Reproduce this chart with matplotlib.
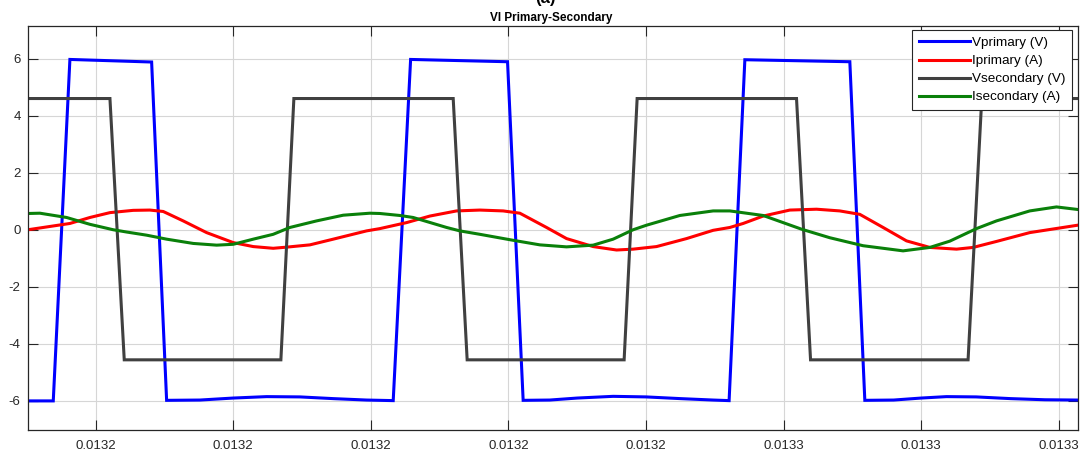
import numpy as np
import matplotlib
matplotlib.use("Agg")
import matplotlib.pyplot as plt

plt.rcParams['font.family'] = ['Liberation Sans', 'DejaVu Sans']

# ---------------- data (time in microseconds, values in V / A) ----------------
vp_t_us = [13150.15, 13153.83, 13156.25, 13168.13, 13170.31, 13175.15, 13179.99,
           13184.85, 13189.69, 13194.53, 13199.38, 13203.25, 13205.78, 13219.87,
           13222.14, 13226.00, 13230.00, 13235.22, 13240.00, 13245.00, 13249.76,
           13252.08, 13254.37, 13269.63, 13271.81, 13276.00, 13280.00, 13283.68,
           13288.00, 13293.00, 13298.00, 13302.77]
vp_val = [-6.00, -6.00, 5.97, 5.88, -5.98, -5.97, -5.90,
          -5.85, -5.86, -5.92, -5.97, -5.99, 5.97, 5.89,
          -5.98, -5.97, -5.90, -5.84, -5.86, -5.92, -5.97,
          -5.99, 5.96, 5.89, -5.98, -5.97, -5.90, -5.85,
          -5.86, -5.92, -5.96, -5.97]

ip_t_us = [13150.15, 13156.25, 13159.16, 13162.07, 13165.45, 13167.88, 13169.82,
           13172.72, 13176.12, 13179.99, 13182.90, 13185.80, 13187.75, 13191.14,
           13194.53, 13199.38, 13201.31, 13205.19, 13208.58, 13212.46, 13215.85,
           13219.24, 13221.66, 13225.54, 13228.45, 13232.32, 13235.72, 13238.13,
           13241.53, 13245.89, 13249.76, 13252.19, 13254.12, 13257.03, 13260.91,
           13264.79, 13268.17, 13271.08, 13274.47, 13277.87, 13281.26, 13285.14,
           13287.55, 13290.95, 13295.79, 13300.63, 13302.77]
ip_val = [0.00, 0.22, 0.43, 0.60, 0.68, 0.69, 0.64,
          0.31, -0.10, -0.45, -0.59, -0.65, -0.61, -0.53,
          -0.33, -0.04, 0.04, 0.25, 0.48, 0.66, 0.69,
          0.66, 0.58, 0.08, -0.31, -0.59, -0.71, -0.68,
          -0.59, -0.31, -0.02, 0.08, 0.22, 0.48, 0.69,
          0.72, 0.66, 0.54, 0.08, -0.39, -0.62, -0.68,
          -0.62, -0.41, -0.10, 0.08, 0.16]

vs_t_us = [13150.15, 13162.07, 13164.15, 13186.92, 13188.81, 13211.97, 13214.00,
           13236.82, 13238.71, 13261.88, 13263.92, 13286.82, 13288.81, 13302.77]
vs_val = [4.60, 4.60, -4.56, -4.56, 4.60, 4.60, -4.56,
          -4.56, 4.60, 4.60, -4.56, -4.56, 4.60, 4.60]

is_t_us = [13150.15, 13151.89, 13155.77, 13159.16, 13162.55, 13164.50, 13167.40,
           13170.31, 13174.18, 13177.58, 13179.99, 13182.90, 13185.80, 13188.23,
           13192.11, 13195.98, 13199.86, 13201.31, 13204.22, 13206.15, 13211.01,
           13212.94, 13215.85, 13220.69, 13224.57, 13228.45, 13232.32, 13235.22,
           13238.13, 13240.08, 13244.92, 13249.76, 13252.19, 13257.03, 13262.61,
           13266.72, 13271.56, 13277.37, 13281.26, 13284.16, 13288.04, 13290.95,
           13295.79, 13299.67, 13302.77]
is_val = [0.57, 0.58, 0.43, 0.19, 0.00, -0.08, -0.19,
          -0.33, -0.48, -0.54, -0.51, -0.33, -0.16, 0.08,
          0.31, 0.51, 0.58, 0.57, 0.50, 0.43, 0.08,
          -0.04, -0.16, -0.37, -0.53, -0.60, -0.54, -0.33,
          0.00, 0.16, 0.50, 0.66, 0.66, 0.50, 0.02,
          -0.28, -0.56, -0.74, -0.62, -0.40, 0.04, 0.31,
          0.66, 0.80, 0.71]

series_names = ['Vprimary (V)', 'Iprimary (A)', 'Vsecondary (V)', 'Isecondary (A)']
series_colors = ['#0000ff', '#ff0000', '#404040', '#0a800a']

x_ticks = [0.01316, 0.01318, 0.01320, 0.01322, 0.01324, 0.01326, 0.01328, 0.01330]
x_tick_labels = ['0.0132', '0.0132', '0.0132', '0.0132', '0.0132', '0.0133', '0.0133', '0.0133']
y_ticks = [-6, -4, -2, 0, 2, 4, 6]
y_tick_labels = ['-6', '-4', '-2', '0', '2', '4', '6']

# ---------------- figure ----------------
W, H = 1088, 459
fig = plt.figure(figsize=(W / 100, H / 100), dpi=100)
ax = fig.add_axes([27.6 / W, 1 - 430 / H, (1078 - 27.6) / W, (430 - 25.5) / H])

xs = [vp_t_us, ip_t_us, vs_t_us, is_t_us]
ys = [vp_val, ip_val, vs_val, is_val]
for t, v, name, col in zip(xs, ys, series_names, series_colors):
    ax.plot(np.array(t) * 1e-6, v, color=col, lw=2.2, label=name,
            solid_joinstyle='miter')

ax.set_xlim(0.0131501, 0.0133028)
ax.set_ylim(-7.02, 7.16)
ax.set_xticks(x_ticks)
ax.set_xticklabels(x_tick_labels)
ax.set_yticks(y_ticks)
ax.set_yticklabels(y_tick_labels)

axcol = '#262626'
ax.grid(True, color='#d6d6d6', lw=0.8)
ax.set_axisbelow(True)
for s in ax.spines.values():
    s.set_color(axcol)
    s.set_linewidth(0.9)
ax.tick_params(axis='both', direction='in', length=7, width=0.8, color=axcol,
               labelcolor=axcol, labelsize=9.5, top=True, right=True)
ax.tick_params(axis='x', pad=7)
ax.tick_params(axis='y', pad=5)

leg = ax.legend(loc='upper right', bbox_to_anchor=((1072 - 27.6) / (1078 - 27.6), 1 - (30 - 25.5) / (430 - 25.5)),
                borderaxespad=0, fancybox=False, framealpha=1, edgecolor=axcol,
                fontsize=9.7, handlelength=3.8, handletextpad=0.15, labelspacing=0.42,
                borderpad=0.5)
leg.get_frame().set_linewidth(0.8)

fig.text(545 / W, 1 - 2.5 / H, '(a)', ha='center', va='baseline', fontsize=12,
         fontweight='bold', color='#000000')
fig.text(551.5 / W, 1 - 20.7 / H, 'VI Primary-Secondary', ha='center', va='baseline',
         fontsize=8.5, fontweight='bold', color='#000000')

fig.savefig('out.png', dpi=100)
